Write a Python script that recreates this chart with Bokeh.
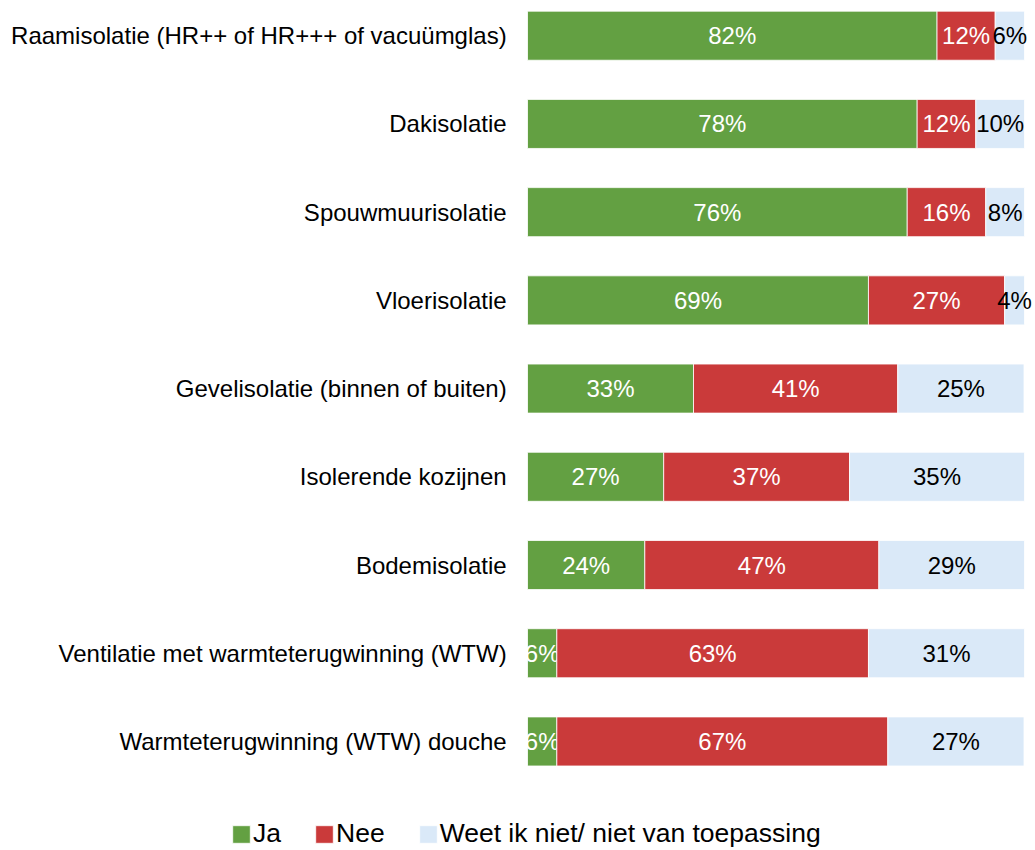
from bokeh.plotting import figure
from bokeh.models import ColumnDataSource, Range1d, Legend, LegendItem
from bokeh.core.properties import value
from bokeh.embed import file_html
from bokeh.resources import INLINE

categories = [
    "Raamisolatie (HR++ of HR+++ of vacuümglas)",
    "Dakisolatie",
    "Spouwmuurisolatie",
    "Vloerisolatie",
    "Gevelisolatie (binnen of buiten)",
    "Isolerende kozijnen",
    "Bodemisolatie",
    "Ventilatie met warmteterugwinning (WTW)",
    "Warmteterugwinning (WTW) douche",
]
ja = [82.4, 78.4, 76.4, 68.6, 33.4, 27.4, 23.6, 5.9, 5.9]
nee = [11.7, 11.8, 15.8, 27.4, 41.1, 37.4, 47.1, 62.7, 66.6]
weet = [5.9, 9.8, 7.8, 4.0, 25.4, 35.2, 29.3, 31.4, 27.4]
series_names = ["Ja", "Nee", "Weet ik niet/ niet van toepassing"]
colors = ["#63A042", "#CA3A3A", "#DAE9F8"]
text_colors = ["white", "white", "black"]

FONT = "Liberation Sans"
n = len(categories)
ypos = [n - 1 - i for i in range(n)]

p = figure(width=1034, height=850, output_backend="svg", toolbar_location=None,
           x_range=Range1d(-106.04, 102.01), y_range=Range1d(-1.236, 8.399),
           x_axis_location=None, y_axis_location=None,
           min_border_left=0, min_border_right=0, min_border_top=0, min_border_bottom=0)
p.outline_line_color = None
p.grid.visible = False

# category labels, right-aligned just left of the bars
cat_src = ColumnDataSource(dict(y=ypos, x=[-4.2] * n, lab=categories))
p.text(x="x", y="y", text="lab", source=cat_src, text_align="right",
       text_baseline="middle", text_color="black", text_font=value(FONT),
       text_font_size="24px")

lefts = [0.0] * n
renderers = []
for vals, col, tcol in zip([ja, nee, weet], colors, text_colors):
    rights = [l + v for l, v in zip(lefts, vals)]
    src = ColumnDataSource(dict(
        y=ypos, left=lefts, right=rights,
        xc=[(l + r) / 2 for l, r in zip(lefts, rights)],
        lab=[f"{round(v)}%" for v in vals],
    ))
    r = p.hbar(y="y", left="left", right="right", height=0.556, source=src,
               fill_color=col, line_color="white", line_width=0.8)
    renderers.append(r)
    p.text(x="xc", y="y", text="lab", source=src, text_align="center",
           text_baseline="middle", text_color=tcol, text_font=value(FONT),
           text_font_size="24px")
    lefts = rights

legend = Legend(items=[LegendItem(label=nm, renderers=[r]) for nm, r in zip(series_names, renderers)],
                orientation="horizontal", location=(230, 1),
                glyph_width=22, glyph_height=22, label_standoff=1, spacing=32,
                padding=0, margin=0, background_fill_alpha=0, border_line_alpha=0,
                label_text_font=FONT, label_text_font_size="26.5px", label_text_color="black")
p.add_layout(legend)

open("out.html", "w").write(file_html(p, INLINE))
